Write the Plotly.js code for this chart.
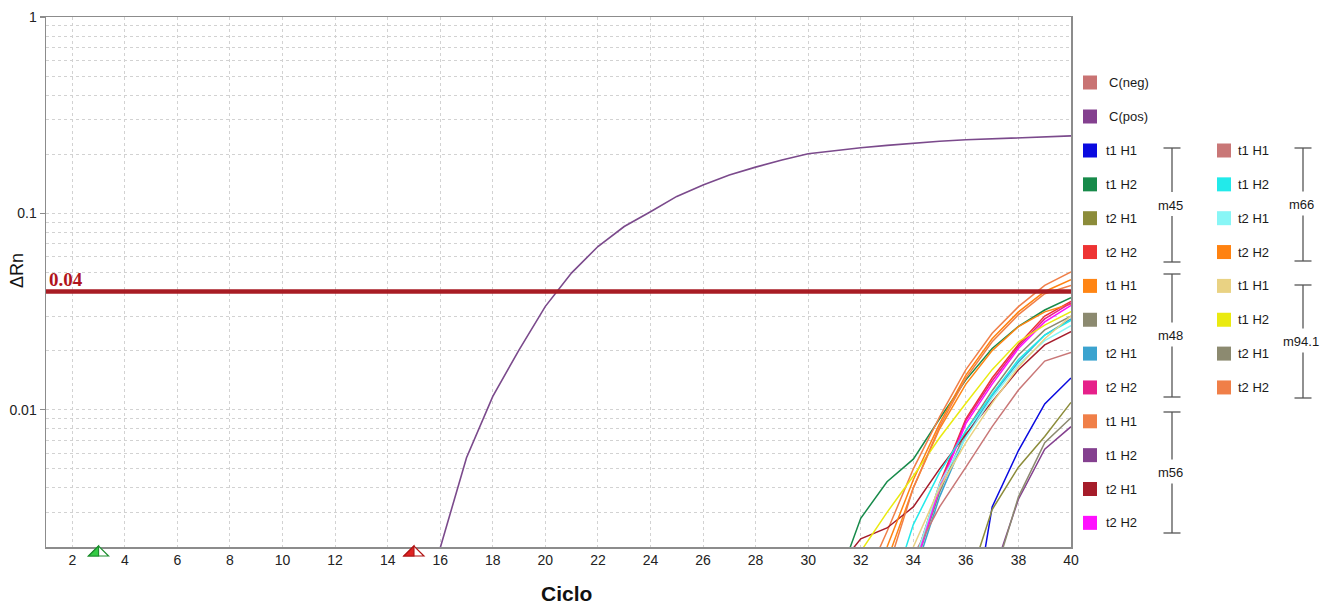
<!DOCTYPE html>
<html>
<head>
<meta charset="utf-8">
<script src="https://cdn.plot.ly/plotly-3.0.1.min.js"></script>
<style>html,body{margin:0;padding:0;background:#fff}#chart{width:1333px;height:605px}</style>
</head>
<body>
<div id="chart"></div>
<script>
// ---------- DATA ----------
const xTicks = [2,4,6,8,10,12,14,16,18,20,22,24,26,28,30,32,34,36,38,40];
const yTickVals = [0.01, 0.1, 1];
const yTickText = ['0.01', '0.1', '1'];
const threshold = 0.04;
const baselineStart = 3;
const baselineEnd = 15;

const posCycles = [16,17,18,19,20,21,22,23,24,25,26,27,28,29,30,31,32,33,34,35,36,37,38,39,40];
const cPos = [0.00198,0.0057,0.0117,0.0202,0.0336,0.0498,0.0678,0.0857,0.102,0.122,0.1395,0.157,0.172,0.187,0.201,0.209,0.216,0.222,0.228,0.233,0.237,0.240,0.242,0.245,0.248];

const sampleCycles = [30,31,32,33,34,35,36,37,38,39,40];
const cNeg     = [0.0011,0.0011,0.0011,0.0011,0.0011,0.0011,0.0011,0.0011,0.0011,0.0011,0.0011];

const m45_t1H1 = [null,null,null,null,null,null,0.0005,0.0032,0.0062,0.0107,0.0145];
const m45_t1H2 = [null,0.0012,0.0028,0.0043,0.0056,0.0090,0.0142,0.0205,0.0266,0.0322,0.0372];
const m45_t2H1 = [null,null,null,null,null,null,0.0012,0.0031,0.0051,0.0073,0.0109];
const m45_t2H2 = [null,null,null,null,0.0016,0.0042,0.0090,0.0145,0.0215,0.0300,0.0356];

const m48_t1H1 = [null,null,null,0.0017,0.0040,0.0080,0.0135,0.0200,0.0265,0.0315,0.0346];
const m48_t1H2 = [null,null,null,null,0.0015,0.0038,0.0078,0.0125,0.0190,0.0255,0.0300];
const m48_t2H1 = [null,null,null,null,0.0014,0.0036,0.0074,0.0118,0.0175,0.0240,0.0290];
const m48_t2H2 = [null,null,null,null,0.0016,0.0041,0.0088,0.0140,0.0210,0.0290,0.0350];

const m56_t1H1 = [null,null,0.0012,0.0024,0.0050,0.0092,0.0160,0.0245,0.0335,0.0430,0.0504];
const m56_t1H2 = [null,null,null,null,null,null,null,0.0014,0.0035,0.0063,0.0082];
const m56_t2H1 = [null,0.0015,0.0022,0.0025,0.0032,0.0050,0.0075,0.0110,0.0160,0.0214,0.0250];
const m56_t2H2 = [null,null,null,null,0.0015,0.0040,0.0085,0.0135,0.0205,0.0280,0.0340];

const m66_t1H1 = [null,null,null,null,0.0018,0.0032,0.0051,0.0082,0.0126,0.0177,0.0196];
const m66_t1H2 = [null,null,null,0.0010,0.0026,0.0048,0.0078,0.0120,0.0180,0.0240,0.0285];
const m66_t2H1 = [null,null,null,null,0.0016,0.0042,0.0072,0.0115,0.0170,0.0225,0.0268];
const m66_t2H2 = [null,null,0.0010,0.0020,0.0044,0.0085,0.0150,0.0230,0.0315,0.0400,0.0459];

const m941_t1H1 = [null,null,null,null,0.0020,0.0040,0.0068,0.0108,0.0165,0.0230,0.0300];
const m941_t1H2 = [null,0.0012,0.0019,0.0030,0.0046,0.0072,0.0108,0.0160,0.0222,0.0270,0.0316];
const m941_t2H1 = [null,null,null,null,null,null,null,0.0013,0.0036,0.0068,0.0091];
const m941_t2H2 = [null,null,null,0.0015,0.0040,0.0082,0.0145,0.0222,0.0305,0.0390,0.0430];

const controlNames = ['C(neg)', 'C(pos)'];
const groupNames = ['m45', 'm48', 'm56', 'm66', 'm94.1'];
const seriesNames = ['t1 H1', 't1 H2', 't2 H1', 't2 H2'];

// ---------- STYLE ----------
const controlColors = ['#C97373', '#84408F'];
const groupColors = [
  ['#0A0AE0', '#178A4A', '#8C8C3A', '#EE3333'],
  ['#FF8514', '#8C8A70', '#3BA3CF', '#E6208A'],
  ['#F07F48', '#84408F', '#A51C2A', '#FF10FF'],
  ['#C97777', '#22EAEA', '#88F6F6', '#FF8210'],
  ['#E9D283', '#EAEA10', '#8C8A70', '#F07F48']
];
const groupData = [
  [m45_t1H1, m45_t1H2, m45_t2H1, m45_t2H2],
  [m48_t1H1, m48_t1H2, m48_t2H1, m48_t2H2],
  [m56_t1H1, m56_t1H2, m56_t2H1, m56_t2H2],
  [m66_t1H1, m66_t1H2, m66_t2H1, m66_t2H2],
  [m941_t1H1, m941_t1H2, m941_t2H1, m941_t2H2]
];

const FONT = 'Liberation Sans, Arial, sans-serif';
const L = 46, R = 1071, T = 17, B = 547;
const px = v => (v - L) / (R - L);
const py = v => (B - v) / (B - T);

const traces = [];
traces.push({x: sampleCycles, y: cNeg, mode: 'lines', name: controlNames[0],
  line: {color: controlColors[0], width: 1.4}, hoverinfo: 'skip'});
groupData.forEach((grp, g) => {
  grp.forEach((vals, i) => {
    traces.push({x: sampleCycles, y: vals, mode: 'lines',
      name: groupNames[g] + ' ' + seriesNames[i],
      line: {color: groupColors[g][i], width: 1.5}, connectgaps: false});
  });
});
traces.push({x: posCycles, y: cPos, mode: 'lines', name: controlNames[1],
  line: {color: '#7B4A8C', width: 1.6}});
traces.push({x: [1, 40], y: [threshold, threshold], mode: 'lines', name: 'threshold',
  line: {color: '#A81C24', width: 4.5}});

// ---------- LEGEND (custom) ----------
const shapes = [];
const annotations = [];
const sq = 14;
function legendItem(xSq, xTxt, yc, color, label) {
  shapes.push({type: 'rect', xref: 'paper', yref: 'paper',
    x0: px(xSq), x1: px(xSq + sq), y0: py(yc + sq / 2), y1: py(yc - sq / 2),
    fillcolor: color, line: {width: 0}});
  annotations.push({xref: 'paper', yref: 'paper', x: px(xTxt), y: py(yc),
    xanchor: 'left', yanchor: 'middle', showarrow: false, text: label,
    font: {family: FONT, size: 13, color: '#1a1a1a'}});
}
legendItem(1083, 1107, 82.5, controlColors[0], controlNames[0]);
legendItem(1083, 1107, 116.5, controlColors[1], controlNames[1]);
const rowStep = 33.85, row0 = 150.5;
// column 1: m45, m48, m56 ; column 2: m66, m94.1
const colOf = [0, 0, 0, 1, 1];
const rowOf = [0, 4, 8, 0, 4];
const colSqX = [1083, 1217];
const colTxtX = [1104, 1236];
const colLineX = [1172, 1303];
const bracketPx = [[148, 262], [274, 397], [412, 533], [148, 261], [285, 398]];
groupNames.forEach((gName, g) => {
  const c = colOf[g];
  seriesNames.forEach((sName, i) => {
    legendItem(colSqX[c], colTxtX[c], row0 + (rowOf[g] + i) * rowStep, groupColors[g][i], sName);
  });
  const [top, bot] = bracketPx[g];
  const mid = (top + bot) / 2;
  const lx = colLineX[c];
  const ln = {color: '#555', width: 1.3};
  shapes.push({type: 'line', xref: 'paper', yref: 'paper', x0: px(lx - 8.5), x1: px(lx + 8.5), y0: py(top), y1: py(top), line: ln});
  shapes.push({type: 'line', xref: 'paper', yref: 'paper', x0: px(lx - 8.5), x1: px(lx + 8.5), y0: py(bot), y1: py(bot), line: ln});
  shapes.push({type: 'line', xref: 'paper', yref: 'paper', x0: px(lx), x1: px(lx), y0: py(top), y1: py(mid - 13), line: ln});
  shapes.push({type: 'line', xref: 'paper', yref: 'paper', x0: px(lx), x1: px(lx), y0: py(mid + 11), y1: py(bot), line: ln});
  annotations.push({xref: 'paper', yref: 'paper', x: px(lx - 2), y: py(mid), xanchor: 'center', yanchor: 'middle',
    showarrow: false, text: gName, font: {family: FONT, size: 13, color: '#1a1a1a'}});
});

// baseline markers (half-filled triangles)
function baselineMarker(xc, fill, edge) {
  shapes.push({type: 'path', xref: 'x', yref: 'paper', xsizemode: 'pixel', ysizemode: 'pixel',
    xanchor: xc, yanchor: 0, path: 'M0,1 L-10,-9 L10,-9 Z', fillcolor: '#ffffff', line: {color: edge, width: 1.2}});
  shapes.push({type: 'path', xref: 'x', yref: 'paper', xsizemode: 'pixel', ysizemode: 'pixel',
    xanchor: xc, yanchor: 0, path: 'M0,1 L-10,-9 L0,-9 Z', fillcolor: fill, line: {color: edge, width: 1.2}});
}
baselineMarker(baselineStart, '#33CC44', '#1F8F30');
baselineMarker(baselineEnd, '#E02222', '#B01515');

// text labels
annotations.push({xref: 'paper', yref: 'y', x: 0, y: Math.log10(threshold), xanchor: 'left', yanchor: 'bottom',
  xshift: 1, yshift: 0, showarrow: false, text: '<b>' + threshold.toFixed(2) + '</b>',
  font: {family: 'Liberation Serif, Times New Roman, serif', size: 19, color: '#B0141C'}});
annotations.push({xref: 'paper', yref: 'paper', x: px(17), y: py(271), xanchor: 'center', yanchor: 'middle',
  textangle: -90, showarrow: false, text: 'ΔRn', font: {family: FONT, size: 18, color: '#111'}});
annotations.push({xref: 'paper', yref: 'paper', x: px(566), y: py(593), xanchor: 'center', yanchor: 'middle',
  showarrow: false, text: '<b>Ciclo</b>', font: {family: FONT, size: 21, color: '#111'}});

const gridStyle = {gridcolor: '#d2d2d2', griddash: '3px,3px', gridwidth: 1};

const layout = {
  width: 1333, height: 605,
  margin: {l: L, r: 1333 - R, t: T, b: 605 - B, pad: 0},
  paper_bgcolor: '#ffffff', plot_bgcolor: '#ffffff',
  showlegend: false,
  font: {family: FONT, size: 14, color: '#222'},
  xaxis: {
    range: [1, 40], tickmode: 'array', tickvals: xTicks, ticktext: xTicks.map(String),
    showgrid: true, ...gridStyle, zeroline: false,
    showline: true, linecolor: '#8c8c8c', linewidth: 1.5, mirror: true,
    ticks: '', tickfont: {family: FONT, size: 14, color: '#222'}, automargin: false
  },
  yaxis: {
    type: 'log', range: [Math.log10(0.002), 0],
    tickmode: 'array', tickvals: yTickVals, ticktext: yTickText,
    showgrid: true, ...gridStyle, zeroline: false,
    minor: {dtick: 'D1', showgrid: true, ...gridStyle, ticks: ''},
    showline: true, linecolor: '#8c8c8c', linewidth: 1.5, mirror: true,
    ticks: 'outside', ticklen: 5, tickcolor: '#8c8c8c', tickwidth: 1.3,
    tickfont: {family: FONT, size: 14, color: '#222'}, automargin: false
  },
  shapes: shapes,
  annotations: annotations
};

Plotly.newPlot('chart', traces, layout, {displayModeBar: false, staticPlot: true});
</script>
</body>
</html>
